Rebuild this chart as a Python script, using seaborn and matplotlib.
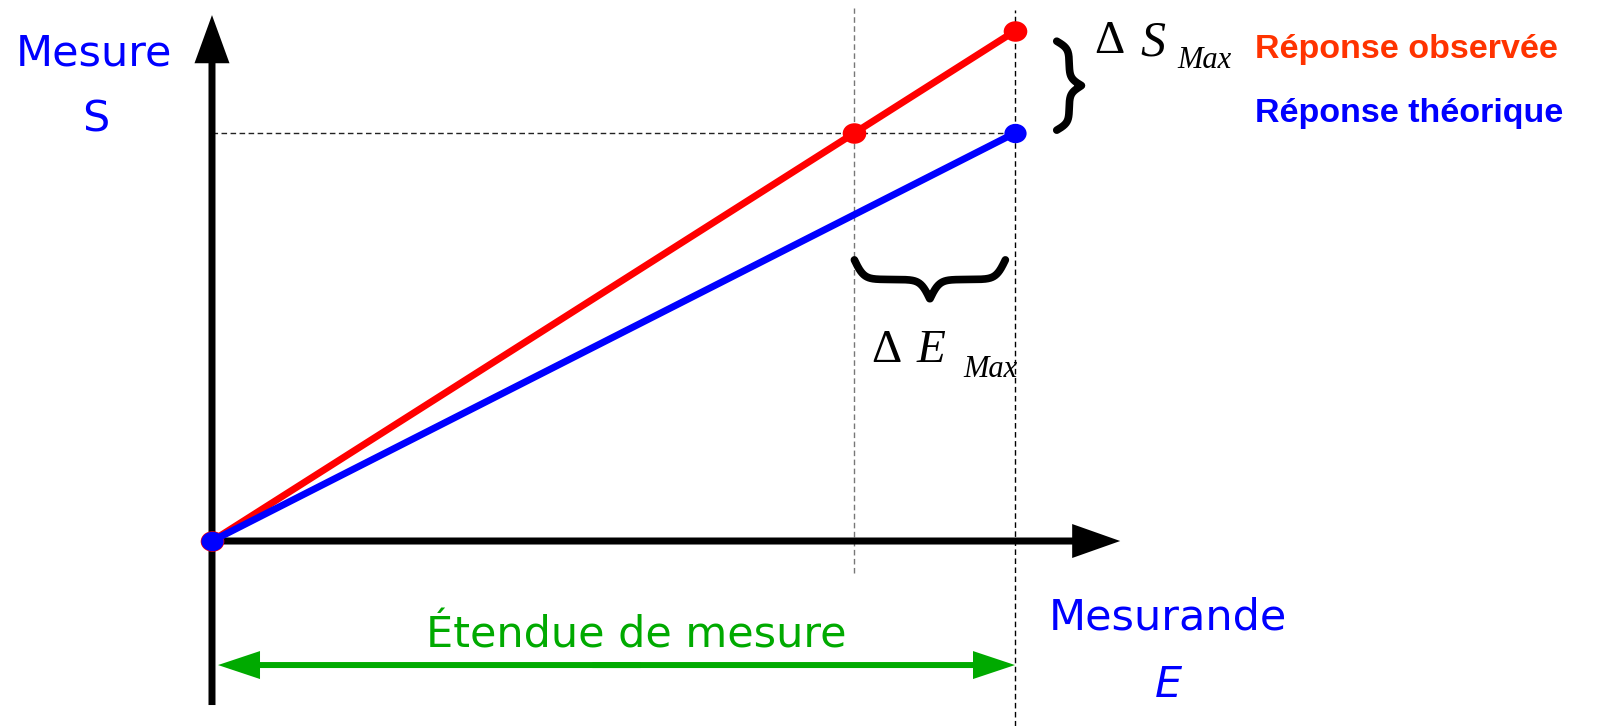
import numpy as np
import matplotlib
matplotlib.use("Agg")
import matplotlib.pyplot as plt
import matplotlib.transforms as mtransforms
from matplotlib.path import Path
import seaborn as sns

# ---------------- data ----------------
E_obs = [0, 80, 100]          # mesurande, réponse observée
S_obs = [0, 100, 125]         # mesure, réponse observée
E_theo = [0, 100]             # mesurande, réponse théorique
S_theo = [0, 100]             # mesure, réponse théorique

label_y = ["Mesure", "S"]
label_x = ["Mesurande", "E"]
label_range = "Étendue de mesure"
legend_labels = ["Réponse observée", "Réponse théorique"]
legend_colors = ["#FF3300", "#0000FF"]

# ---------------- figure ----------------
sns.set_theme(style="white")
plt.rcParams["font.family"] = ["DejaVu Sans"]

W, H = 1604, 726
fig = plt.figure(figsize=(W / 100, H / 100), dpi=100)
ax = fig.add_axes([0, 0, 1, 1])
ax.set_xlim(-26.40, 173.35)
ax.set_ylim(-45.34, 132.60)
ax.axis("off")

img = mtransforms.Affine2D().scale(1 / W, -1 / H).translate(0, 1) + fig.transFigure

E_mid, E_max = E_obs[1], E_obs[-1]
S_ref = S_obs[1]

# dashed guide lines
ax.vlines(E_mid, -7.8, 130.6, colors="#777777", linestyles=(0, (4, 2.5)), lw=1, zorder=1)
ax.vlines(E_max, -45.34, 130.1, colors="black", linestyles=(0, (4, 2.5)), lw=1, zorder=1)
ax.hlines(S_ref, 0, E_max, colors="#222222", linestyles=(0, (4, 2.5)), lw=1, zorder=1)

# axes arrows
ax.arrow(0, -40.2, 0, 128.9 + 40.2, width=0.87, head_width=4.36, head_length=11.8,
         length_includes_head=True, color="black", lw=0, zorder=2)
ax.arrow(-0.4, 0, 113.1 + 0.4, 0, width=1.72, head_width=8.33, head_length=5.98,
         length_includes_head=True, color="black", lw=0, zorder=2)

# étendue de mesure double arrow
green = "#00AA00"
E_c = (0.75 + E_max) / 2
for end, start in ((0.75, E_c + 3), (E_max, E_c - 3)):
    ax.arrow(start, -30.4, end - start, 0, width=1.47, head_width=6.86, head_length=5.23,
             length_includes_head=True, color=green, lw=0, zorder=2)

# responses
ell = Path.unit_circle().transformed(mtransforms.Affine2D().scale(1, 0.87))
sns.lineplot(x=E_obs, y=S_obs, ax=ax, color="#FF0000", lw=5, sort=False, estimator=None,
             marker=ell, markersize=17, markeredgewidth=0, zorder=3)
sns.lineplot(x=E_theo, y=S_theo, ax=ax, color="#0000FF", lw=5, sort=False, estimator=None,
             marker=ell, markersize=16, markeredgewidth=0, zorder=4)


def brace_profile(n=400, b=30):
    t = np.linspace(0, 1, n)
    th = np.minimum(t, 1 - t)
    g = 1 / (1 + np.exp(-b * th)) + 1 / (1 + np.exp(-b * (th - 0.5)))
    return t, g - 0.5


# ΔE brace (horizontal, pointing down)
t, f = brace_profile(b=32)
bx = E_mid + t * (E_max - 1.2 - E_mid)
by = 68.9 - f * 9.6
ax.plot(bx, by, color="black", lw=5.5, solid_capstyle="round", zorder=5)

# ΔS brace (vertical, pointing right)
t, f = brace_profile(b=24)
vy = S_theo[-1] + 0.7 + t * (S_obs[-1] - 2.5 - S_theo[-1] - 0.7)
vx = E_max + 5.2 + f * 3.1
ax.plot(vx, vy, color="black", lw=5.5, solid_capstyle="round", zorder=5)

# ---------------- texts ----------------
comic = dict(color="#0000FF", fontsize=31, family=["DejaVu Sans"], transform=img,
             ha="center", va="baseline")
ax.text(94, 65, label_y[0], **comic)
ax.text(96, 132, label_y[1], **comic)
ax.text(1168, 630, label_x[0], **comic)
ax.text(1168, 697, label_x[1], style="italic", **comic)
ax.text(636, 647, label_range, color=green, fontsize=31, family=["DejaVu Sans"],
        transform=img, ha="center", va="baseline")

ax.text(1255, 58, legend_labels[0], color=legend_colors[0], fontsize=24.5, weight="bold",
        family=["Liberation Sans"], transform=img, ha="left", va="baseline")
ax.text(1255, 122, legend_labels[1], color=legend_colors[1], fontsize=24.5, weight="bold",
        family=["Liberation Sans"], transform=img, ha="left", va="baseline")

serif = dict(color="black", family=["Liberation Serif"], transform=img, ha="left",
             va="baseline")
# ΔS_Max
ax.text(1094, 53, "Δ", fontsize=34, **serif)
ax.text(1140, 56, "S", fontsize=36, style="italic", **serif)
ax.text(1177, 68, "Max", fontsize=22, style="italic", **serif)
# ΔE_Max
ax.text(871, 362, "Δ", fontsize=34, **serif)
ax.text(917, 362, "E", fontsize=34, style="italic", **serif)
ax.text(963, 377, "Max", fontsize=22, style="italic", **serif)

fig.savefig("out.png", dpi=100)
